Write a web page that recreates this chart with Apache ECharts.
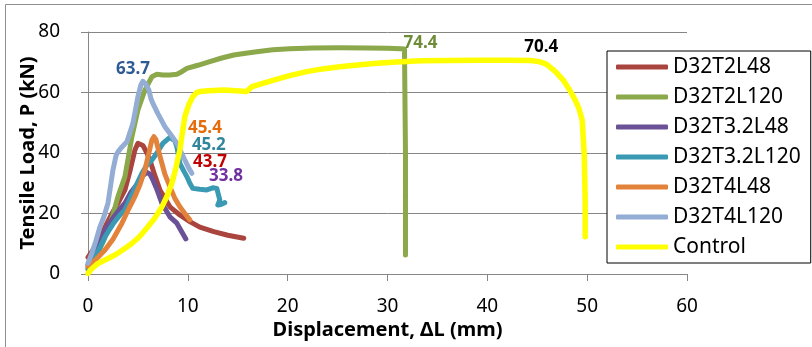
<!DOCTYPE html>
<html><head><meta charset="utf-8">
<script src="https://cdn.jsdelivr.net/npm/echarts@6/dist/echarts.min.js"></script>
<style>html,body{margin:0;padding:0;background:#fff}#c{width:812px;height:347px}</style>
</head><body><div id="c"></div>
<script>
const seriesNames = ['D32T2L48','D32T2L120','D32T3.2L48','D32T3.2L120','D32T4L48','D32T4L120','Control'];
const xTicks = [0,10,20,30,40,50,60];
const yTicks = [0,20,40,60,80];

const redX = [0,0.5,1,1.7,2.4,3.1,3.7,4.2,4.7,5.0,5.2,5.5,5.9,6.2,6.7,7.2,7.7,8.2,9.2,10.2,11.2,12.6,14.0,15.6];
const redY = [5.5,8,11.2,15.5,20,24,27.8,34,41,43.2,43.7,42.5,40,37.7,32.5,27.8,25,22.2,19.5,17.3,15.5,14,12.8,11.8];

const greenX = [0,0.5,1,1.5,2,2.5,3,3.7,4.4,5.0,5.7,6.4,6.9,7.5,8.2,8.9,9.2,9.9,11,12.2,13.4,14.6,15.8,16.9,18.5,20.2,22.5,25.2,28,30,31.3,31.7,31.8,31.8];
const greenY = [1.5,4,7,10.5,14.5,19.5,25.6,32.2,45.4,54.2,60.8,65.2,66,65.8,65.8,66,66.5,68,69,70.2,71.4,72.4,73,73.5,74.1,74.5,74.7,74.8,74.7,74.6,74.5,74.4,40,6.3];

const purpleX = [0,0.5,1,1.7,2.5,3.2,3.7,4.3,5.0,5.5,5.9,6.2,6.5,6.9,7.4,8.2,8.9,9.8];
const purpleY = [3,5.5,8.5,14.5,18.5,21.5,23.4,27,30,32.5,33.6,33,31.1,28,23.4,18.9,16.8,11.6];

const tealX = [0,0.5,1,1.7,2.5,3.2,3.7,4.5,5.4,5.9,6.4,6.9,7.5,8.2,8.7,8.9,9.2,9.6,9.9,10.2,10.5,11.2,11.9,12.5,12.9,13.2,13.0,13.3,13.7];
const tealY = [2,4.5,7.5,12.3,16.5,19.5,21.2,27,33.3,36,37.7,40,43.2,45.2,44,42.1,36.6,34,32.2,30,28.3,28,27.8,28.5,28.3,24.5,22.8,23,23.6];

const orangeX = [0,0.5,1,1.7,2.5,3.4,4.0,4.7,5.2,5.7,6.1,6.4,6.6,6.8,7.2,7.7,8.2,8.7,9.2,9.7,10.2];
const orangeY = [2.4,3.8,5.5,7.9,11.5,16.8,21,25.6,29.5,34.4,40,44.3,45.4,44.5,39,33,28.9,25,22.2,20,17.9];

const blueX = [0,0.4,0.8,1.2,1.6,2.0,2.3,2.5,2.8,3.0,3.4,3.9,4.5,5.0,5.3,5.5,5.8,6.1,6.3,6.5,7.0,7.7,8.3,8.9,9.3,9.7,10.1,10.4];
const blueY = [3.6,7,11,15.6,19,23.4,30,34.4,39,40.4,42,43.7,49.8,58.6,62.5,63.7,62.8,60.8,58,56.4,53,48.7,46,43.2,40.5,37.7,35,33.3];

const yellowX = [0,0.3,1.0,1.8,2.7,3.5,4.4,5.2,6.0,6.7,7.4,7.9,8.4,8.8,9.2,9.7,10.1,10.5,10.9,11.2,12,13.6,15.2,15.9,16.4,17.5,18.6,20.2,21.9,23.5,25.2,27,28.6,30.5,33.3,36,39.3,42,44.3,45.2,45.9,46.8,47.6,48.3,48.8,49.2,49.5,49.7,49.8,49.8];
const yellowY = [0.2,1.5,3.5,4.8,6.3,8,10.1,12.5,15.6,18.5,22.2,25.6,30,35,41,52,56,58.6,60,60.3,60.6,60.8,60.5,60.3,61.9,63,64.1,65.6,66.9,67.8,68.5,69.1,69.6,70,70.5,70.6,70.7,70.7,70.6,70.2,69.4,67,64.1,60.5,57.5,54.5,50.9,40,25,12.3];

const peakLabels = ['43.7','74.4','33.8','45.2','45.4','63.7','70.4'];

const FONT = 'Noto Sans';
const lineColors = ['#A9443F','#8BA84B','#6B5195','#3A9AB3','#E3823A','#93ADD5','#FFFF00'];
const labelColors = ['#C00000','#6E8C38','#7030A0','#31859C','#E46C0A','#2E5B94','#000000'];
const labelOffsets = [[70,20],[81,-5],[79,4],[39,8],[51,-9],[-10,-12],[61,-13]];
const widths = [5,5,5,5,5,5,5.5];

const xs = [redX,greenX,purpleX,tealX,orangeX,blueX,yellowX];
const ys = [redY,greenY,purpleY,tealY,orangeY,blueY,yellowY];

const series = seriesNames.map((name,i)=>{
  const data = xs[i].map((x,j)=>[x, ys[i][j]]);
  let mi = 0;
  ys[i].forEach((v,j)=>{ if (v > ys[i][mi]) mi = j; });
  return {
    name, type:'line', data, showSymbol:false, symbol:'none', smooth:false,
    lineStyle:{color:lineColors[i], width:widths[i], cap:'round', join:'round'},
    itemStyle:{color:lineColors[i]},
    animation:false,
    markPoint:{
      symbol:'circle', symbolSize:0, animation:false,
      itemStyle:{color:'rgba(0,0,0,0)'},
      label:{show:true, position:'inside', offset:labelOffsets[i], formatter:peakLabels[i],
        fontFamily:FONT, fontWeight:'bold', fontSize:17, color:labelColors[i]},
      data:[{coord:[xs[i][mi], ys[i][mi]], value:peakLabels[i]}]
    }
  };
});

const axisGray = '#868686';
const chart = echarts.init(document.getElementById('c'), null, {renderer:'canvas'});
chart.setOption({
  backgroundColor:'#fff',
  animation:false,
  textStyle:{fontFamily:FONT},
  graphic:[{type:'rect', z:-10, shape:{x:5.5,y:4.5,width:900,height:600}, style:{fill:'none', stroke:'#8e8e8e', lineWidth:1}}],
  grid:{left:88, right:125, top:32, bottom:73, containLabel:false},
  legend:{
    orient:'vertical', left:607, top:51, padding:[4,10,4,9],
    itemWidth:52, itemHeight:5, itemGap:6, icon:'roundRect',
    backgroundColor:'#fff', borderColor:'#000', borderWidth:1,
    textStyle:{fontFamily:FONT, fontSize:21, lineHeight:24, color:'#000'},
    data:seriesNames
  },
  xAxis:{
    type:'value', min:xTicks[0], max:xTicks[xTicks.length-1], interval:xTicks[1]-xTicks[0],
    axisLine:{show:true, lineStyle:{color:axisGray, width:1}},
    axisTick:{show:true, length:7, lineStyle:{color:axisGray}},
    splitLine:{show:false},
    axisLabel:{fontFamily:FONT, fontSize:19, color:'#000', margin:23},
    name:'Displacement, ΔL (mm)', nameLocation:'middle', nameGap:46, nameMoveOverlap:false,
    nameTextStyle:{fontFamily:FONT, fontSize:20, fontWeight:'bold', color:'#000'}
  },
  yAxis:{
    type:'value', min:yTicks[0], max:yTicks[yTicks.length-1], interval:yTicks[1]-yTicks[0],
    axisLine:{show:true, lineStyle:{color:axisGray, width:1}},
    axisTick:{show:true, length:7, lineStyle:{color:axisGray}},
    splitLine:{show:true, lineStyle:{color:axisGray, width:1}},
    axisLabel:{fontFamily:FONT, fontSize:19, color:'#000', margin:28},
    name:'Tensile Load, P (kN)', nameLocation:'middle', nameGap:50, nameMoveOverlap:false,
    nameTextStyle:{fontFamily:FONT, fontSize:20, fontWeight:'bold', color:'#000'}
  },
  series
});
</script></body></html>
